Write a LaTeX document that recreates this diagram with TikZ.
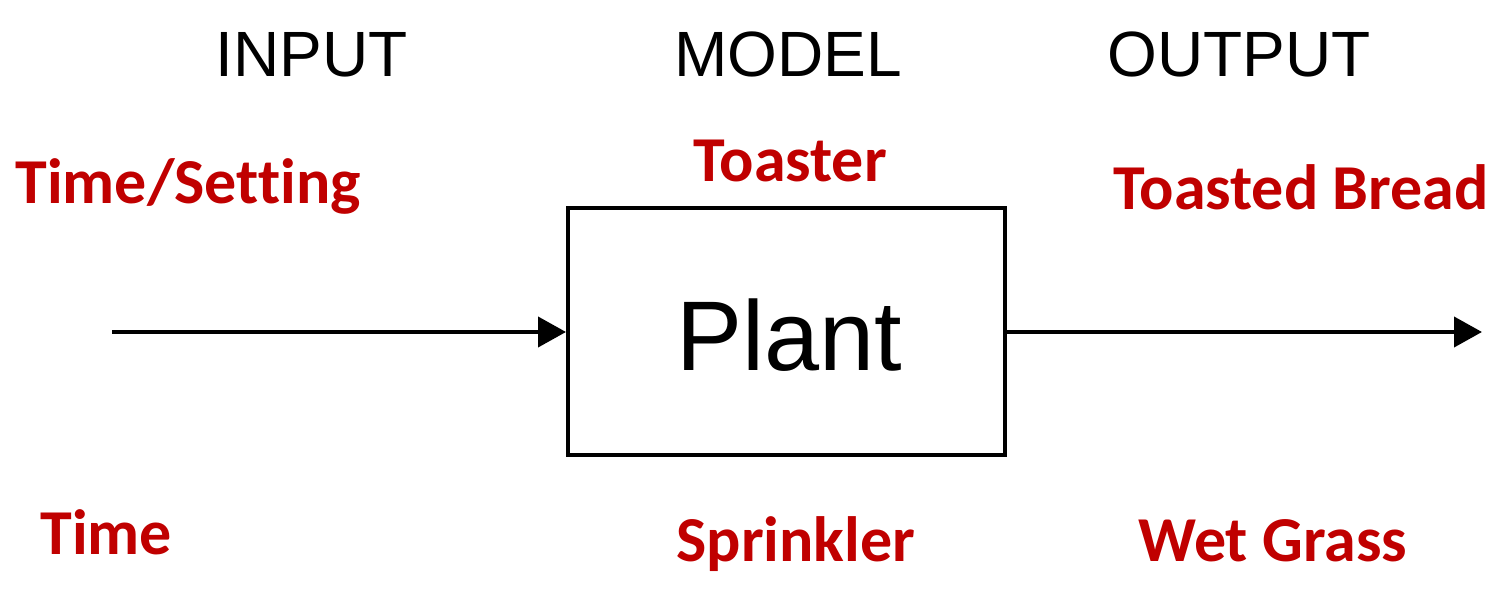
\documentclass[tikz,border=0pt]{standalone}
\usepackage{fontspec}
\setmainfont{Liberation Sans}
\newfontfamily\calib[Ligatures={NoCommon}]{Carlito}
\usetikzlibrary{arrows.meta}
\definecolor{darkred}{HTML}{C00000}
\begin{document}
\begin{tikzpicture}[x=0.5pt,y=-0.5pt,
  hdr/.style={anchor=base west,inner sep=0pt,font=\fontsize{32pt}{38pt}\selectfont},
  lbl/.style={anchor=base west,inner sep=0pt,text=darkred,font=\calib\bfseries\fontsize{32pt}{38pt}\selectfont},
  conn/.style={line width=2pt,-{Triangle[length=14pt,width=15pt]}}]
\useasboundingbox (0,0) rectangle (1506,598);
\node[hdr] (in) at (215,77) {INPUT};
\node[hdr] (mo) at (674,77) {MODEL};
\node[hdr] (out) at (1107,77) {OUTPUT};
\node[draw,line width=2pt,minimum width=218.5pt,minimum height=123.5pt,inner sep=0pt] (plant) at (786.5,331.5) {};
\node[anchor=base,inner sep=0pt,font=\fontsize{49.5pt}{60pt}\selectfont] (pl) at (789,371) {Plant};
\coordinate (s) at (112,332);
\coordinate (e) at (1482,332);
\draw[conn] (s) -- (plant.west |- s);
\draw[conn] (plant.east |- e) -- (e);
\node[lbl] (l1) at (15,204) {Time/Setting};
\node[lbl] (l2) at (693,182) {Toaster};
\node[lbl] (l3) at (1113,210) {Toasted Bread};
\node[lbl] (l4) at (40,555) {Time};
\node[lbl] (l5) at (676,562) {Sprinkler};
\node[lbl] (l6) at (1138,562) {Wet Grass};
\end{tikzpicture}
\end{document}
